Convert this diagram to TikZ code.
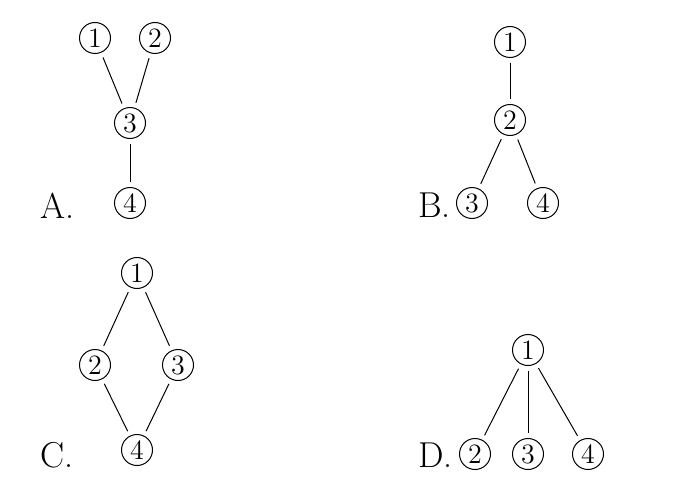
\documentclass[tikz,border=0pt]{standalone}
\usepackage{tikz}
\begin{document}
\begin{tikzpicture}[x=0.5pt,y=-0.5pt,
  c/.style={draw,circle,inner sep=0pt,minimum size=15.5pt,line width=0.5pt,
            font=\fontsize{14}{16}\selectfont},
  e/.style={line width=0.5pt,shorten <=2.5pt,shorten >=2.5pt},
  l/.style={anchor=base west,inner sep=0pt,font=\fontsize{18}{20}\selectfont}]
\useasboundingbox (0,0) rectangle (689,492);
% A
\node[c] (a1) at (95,38)   {1};
\node[c] (a2) at (155,38)  {2};
\node[c] (a3) at (130,123) {3};
\node[c] (a4) at (130,203) {4};
\node[l] (lA) at (40,218)  {A.};
\draw[e] (a1) -- (a3);
\draw[e] (a2) -- (a3);
\draw[e] (a3) -- (a4);
% B
\node[c] (b1) at (510,42)  {1};
\node[c] (b2) at (510,120) {2};
\node[c] (b3) at (472,203) {3};
\node[c] (b4) at (543,203) {4};
\node[l] (lB) at (418,217) {B.};
\draw[e] (b1) -- (b2);
\draw[e] (b2) -- (b3);
\draw[e] (b2) -- (b4);
% C
\node[c] (c1) at (137,273) {1};
\node[c] (c2) at (95,365)  {2};
\node[c] (c3) at (178,365) {3};
\node[c] (c4) at (137,450) {4};
\node[l] (lC) at (40,467)  {C.};
\draw[e] (c1) -- (c2);
\draw[e] (c1) -- (c3);
\draw[e] (c2) -- (c4);
\draw[e] (c3) -- (c4);
% D
\node[c] (d1) at (528,350) {1};
\node[c] (d2) at (475,454) {2};
\node[c] (d3) at (528,454) {3};
\node[c] (d4) at (588,454) {4};
\node[l] (lD) at (418,467) {D.};
\draw[e] (d1) -- (d2);
\draw[e] (d1) -- (d3);
\draw[e] (d1) -- (d4);
\end{tikzpicture}
\end{document}
